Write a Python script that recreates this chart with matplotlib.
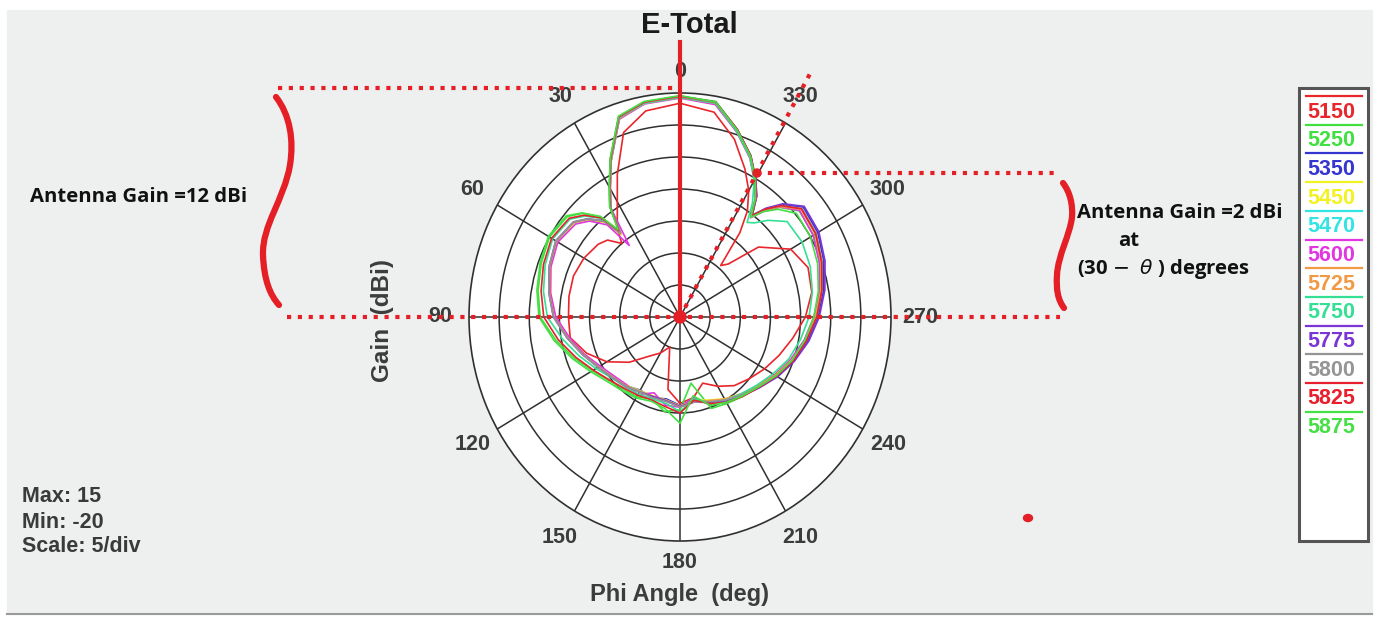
import numpy as np
import matplotlib.pyplot as plt
from matplotlib.path import Path
from matplotlib.patches import PathPatch, Rectangle, Ellipse

# ---------------- data (gain in dBi) ----------------
angles = [0, 10, 18, 25, 30, 34, 37, 40, 45, 50,
          60, 70, 80, 90, 100, 110, 120, 130, 140, 150,
          160, 170, 180, 190, 200, 210, 220, 230, 240, 250,
          260, 270, 280, 290, 300, 310, 316, 320, 323, 326,
          330, 335, 342, 350]

freqs = ['5150', '5250', '5350', '5450', '5470', '5600',
         '5725', '5750', '5775', '5800', '5825', '5875']
colors = ['#e8262b', '#3fe03f', '#3535d0', '#f2f222', '#33e4e4', '#e236e2',
          '#f09a45', '#35e095', '#7a35d5', '#959595', '#e8202e', '#44e044']

g5150 = [13.4, 12.7, 10.3, 4.6, 0.8, -1.4, -2.7, -5.0, -3.0, -2.3,
         -1.6, -1.2, -1.3, -1.5, -1.5, -3.5, -6.0, -9.0, -12.0, -13.5,
         -15.0, -8.5, -6.5, -7.2, -9.0, -7.5, -6.0, -5.0, -3.8, -2.5,
         -1.0, 0.8, 2.2, 2.6, 1.2, -3.0, -8.5, -9.5, -3.5, 0.0,
         2.8, 5.5, 9.2, 12.5]
g5250 = [14.5, 14.1, 12.9, 7.3, 3.4, 0.8, -3.2, 0.4, 2.9, 4.4,
         5.0, 4.5, 3.9, 3.2, 0.9, -1.3, -3.2, -4.6, -5.3, -5.6,
         -6.4, -5.0, -5.5, -9.5, -4.8, -4.4, -3.8, -3.0, -1.4, 0.0,
         1.2, 2.5, 3.7, 4.8, 5.6, 5.8, 3.8, 2.0, 0.0, 2.6,
         5.0, 7.8, 10.8, 14.2]
g5350 = [14.4, 14.0, 12.7, 7.1, 3.2, 0.6, -3.8, -0.6, 1.5, 2.9,
         3.6, 2.9, 1.9, 0.8, -1.2, -3.0, -4.5, -5.5, -6.0, -6.8,
         -6.6, -7.0, -6.2, -6.8, -6.0, -5.0, -4.0, -2.9, -1.5, 0.0,
         1.5, 2.9, 4.2, 5.4, 6.4, 6.7, 4.4, 2.0, -0.3, 2.7,
         5.0, 7.7, 10.7, 14.0]
g5450 = [14.3, 13.9, 12.6, 7.0, 3.1, 0.5, -3.9, -0.7, 1.4, 2.8,
         3.5, 2.8, 1.8, 0.7, -1.3, -3.1, -4.6, -5.6, -6.1, -6.7,
         -6.9, -6.8, -6.1, -6.7, -6.2, -5.2, -4.3, -3.2, -1.8, -0.3,
         1.1, 2.5, 3.8, 5.0, 6.0, 6.3, 4.0, 1.7, -0.5, 2.4,
         4.8, 7.5, 10.5, 13.8]
g5470 = [14.4, 14.0, 12.7, 7.0, 3.2, 0.6, -3.6, -0.5, 1.6, 3.0,
         3.7, 3.0, 2.0, 0.9, -1.1, -2.9, -4.4, -5.4, -6.0, -6.6,
         -6.7, -6.6, -6.0, -6.6, -6.0, -5.1, -4.2, -3.1, -1.7, -0.2,
         1.2, 2.6, 3.8, 5.0, 6.0, 6.3, 4.1, 1.8, -0.3, 2.5,
         4.9, 7.6, 10.6, 13.9]
g5600 = [14.2, 13.8, 12.5, 7.0, 3.1, 0.4, -6.0, -1.2, 1.2, 2.6,
         3.4, 2.8, 1.8, 0.6, -1.4, -3.1, -4.7, -5.7, -6.2, -6.0,
         -7.4, -6.0, -5.9, -7.2, -5.4, -4.9, -4.1, -3.3, -1.9, -0.5,
         0.9, 2.2, 3.5, 4.6, 5.5, 5.9, 3.9, 1.5, -0.6, 2.3,
         4.7, 7.4, 10.4, 13.7]
g5725 = [14.3, 13.9, 12.6, 7.0, 3.2, 0.6, -3.7, -0.5, 1.6, 3.0,
         3.7, 3.0, 2.0, 0.9, -1.1, -2.9, -4.4, -5.4, -6.0, -6.6,
         -6.8, -6.8, -6.1, -6.6, -6.1, -5.2, -4.3, -3.2, -1.8, -0.3,
         1.1, 2.5, 3.7, 4.9, 5.9, 6.2, 4.0, 1.7, -0.4, 2.5,
         4.9, 7.6, 10.6, 13.9]
g5750 = [14.3, 13.9, 12.7, 7.1, 3.2, 0.6, -3.3, 0.1, 2.3, 3.8,
         4.4, 3.8, 3.0, 2.0, -0.2, -2.2, -3.9, -5.2, -5.8, -6.1,
         -6.4, -6.3, -5.2, -7.0, -5.8, -5.0, -4.3, -3.4, -2.2, -0.8,
         0.3, 1.4, 2.3, 3.0, 3.4, 3.2, 1.0, -0.8, -1.5, 1.5,
         4.6, 7.5, 10.5, 13.9]
g5775 = [14.5, 14.1, 12.8, 7.2, 3.3, 0.7, -3.5, -0.4, 1.7, 3.1,
         3.8, 3.1, 2.1, 1.0, -1.0, -2.8, -4.3, -5.3, -5.9, -6.5,
         -6.8, -6.7, -6.0, -6.5, -5.8, -4.9, -3.9, -2.8, -1.3, 0.2,
         1.7, 3.1, 4.4, 5.6, 6.6, 6.9, 4.6, 2.2, -0.1, 2.8,
         5.1, 7.8, 10.8, 14.1]
g5800 = [14.4, 14.0, 12.7, 7.1, 3.2, 0.6, -3.6, -0.4, 1.7, 3.1,
         3.8, 3.1, 2.1, 1.0, -1.0, -2.8, -4.3, -5.3, -5.9, -6.5,
         -6.6, -6.6, -5.9, -6.5, -5.9, -5.0, -4.1, -3.0, -1.6, -0.1,
         1.3, 2.7, 3.9, 5.1, 6.1, 6.4, 4.2, 1.9, -0.2, 2.6,
         5.0, 7.7, 10.7, 14.0]
g5825 = [14.5, 14.1, 12.9, 7.3, 3.4, 0.8, -3.1, 0.2, 2.5, 4.0,
         4.6, 4.1, 3.4, 2.6, 0.5, -1.6, -3.4, -4.7, -5.5, -5.9,
         -6.2, -5.8, -5.0, -6.8, -5.6, -4.6, -3.8, -2.9, -1.5, 0.0,
         1.3, 2.7, 3.9, 5.0, 6.0, 6.3, 4.2, 2.0, -0.2, 2.6,
         5.0, 7.8, 10.8, 14.1]
g5875 = [14.6, 14.2, 13.0, 7.4, 3.5, 0.9, -2.9, 0.5, 3.0, 4.6,
         5.2, 4.7, 4.1, 3.4, 1.2, -1.0, -2.9, -4.3, -5.0, -5.4,
         -6.0, -5.5, -3.4, -7.5, -5.3, -4.6, -3.9, -3.0, -1.6, -0.2,
         1.0, 2.2, 3.3, 4.3, 5.0, 5.2, 3.4, 1.5, -0.5, 2.4,
         4.9, 7.7, 10.7, 14.1]

gains = [g5150, g5250, g5350, g5450, g5470, g5600,
         g5725, g5750, g5775, g5800, g5825, g5875]

angle_labels = ['0', '30', '60', '90', '120', '150', '180',
                '210', '240', '270', '300', '330']
info_lines = ['Max: 15', 'Min: -20', 'Scale: 5/div']

lab_font = 'Liberation Sans'
note_font = 'Open Sans'

# ---------------- figure + gray panel ----------------
W, H = 1378, 617
fig = plt.figure(figsize=(W / 100, H / 100), dpi=100)

bg = fig.add_axes([0, 0, 1, 1], zorder=0)
bg.set_xlim(0, W)
bg.set_ylim(H, 0)
bg.axis('off')
bg.add_patch(Rectangle((7, 10), 1365, 603, color='#eef0f0'))
bg.plot([7, 1372], [614, 614], color='#9a9a9a', lw=1.5)

# ---------------- polar plot ----------------
ax = fig.add_axes([469 / W, (H - 541) / H, 422 / W, 448 / H],
                  projection='polar', zorder=1)
ax.set_aspect('auto')
ax.set_theta_zero_location('N')
ax.set_theta_direction(1)
ax.set_ylim(-20, 15)
ax.set_rgrids([-15, -10, -5, 0, 5, 10], labels=[])
ax.set_thetagrids(range(0, 360, 30), labels=[])
ax.grid(True, color='#303030', lw=1.1)
ax.spines['polar'].set_color('#303030')
ax.spines['polar'].set_linewidth(1.2)
ax.set_facecolor('white')

theta = np.deg2rad(angles + [360])
for g, c in zip(gains, colors):
    ax.plot(theta, g + [g[0]], color=c, lw=1.2)

for a, lab in zip(range(0, 360, 30), angle_labels):
    r = 18.3 if a in (0, 180) else 19.8
    ax.text(np.deg2rad(a), r, lab, ha='center', va='center', fontsize=15.5,
            color='#3c3c3c', fontweight='bold', family=lab_font, clip_on=False)

# ---------------- overlay (texts and red annotations) ----------------
fg = fig.add_axes([0, 0, 1, 1], zorder=3)
fg.set_xlim(0, W)
fg.set_ylim(H, 0)
fg.axis('off')
fg.patch.set_alpha(0)

fg.text(689, 25, 'E-Total', ha='center', va='center', fontsize=21,
        fontweight='bold', family=lab_font, color='#1a1a1a')
fg.text(382, 320, 'Gain  (dBi)', ha='center', va='center', rotation=90,
        fontsize=17.5, fontweight='bold', family=lab_font, color='#3c3c3c')
fg.text(680, 595, 'Phi Angle  (deg)', ha='center', va='center',
        fontsize=17, fontweight='bold', family=lab_font, color='#3c3c3c')
for i, t in enumerate(info_lines):
    fg.text(22, 497 + 25 * i, t, ha='left', va='center', fontsize=15.5,
            fontweight='bold', family=lab_font, color='#3a3a3a')

red = '#e41f26'
dots = dict(color=red, lw=3.0, linestyle=(0, (1, 1.6)), dash_capstyle='butt')
fg.plot([278, 680], [88, 88], **dots)
fg.plot([287, 1060], [317, 317], **dots)
fg.plot([757, 1060], [173, 173], **dots)
fg.plot([680, 812], [317, 70], **dots)
fg.plot([680, 680], [42, 317], color=red, lw=3.0)
fg.add_patch(Ellipse((680, 317), 12, 12, color=red))
fg.add_patch(Ellipse((757, 173), 8, 8, color=red))
fg.add_patch(Ellipse((1028, 518), 9, 7, color=red))

# curly braces
left_brace = Path([(276, 97), (290, 115), (294, 140), (290, 165),
                   (284, 200), (262, 225), (263, 255),
                   (264, 280), (270, 295), (279, 305)],
                  [Path.MOVETO] + [Path.CURVE4] * 9)
right_brace = Path([(1063, 183), (1070, 192), (1073, 205), (1072, 217),
                    (1070, 235), (1058, 255), (1057, 275),
                    (1056, 290), (1058, 300), (1064, 308)],
                   [Path.MOVETO] + [Path.CURVE4] * 9)
for p in (left_brace, right_brace):
    fg.add_patch(PathPatch(p, fill=False, ec=red, lw=4.5, capstyle='round'))

note = dict(ha='left', va='center', fontsize=14.6, fontweight='bold',
            family=note_font, color='#111111')
fg.text(30, 197, 'Antenna Gain =12 dBi', **note)
fg.text(1077, 213, 'Antenna Gain =2 dBi', **note)
fg.text(1118, 241, 'at', **note)
fg.text(1077, 269, r'(30 $-$  $\theta$ ) degrees', **note)

# legend box
fg.add_patch(Rectangle((1299, 88), 69, 453, facecolor='white',
                       edgecolor='#555555', lw=2.2))
for i, (f, c) in enumerate(zip(freqs, colors)):
    y = 112 + 28.7 * i
    fg.plot([1306, 1362], [y - 16, y - 16], color=c, lw=1.6)
    fg.text(1307, y, f, ha='left', va='center', fontsize=15.5,
            fontweight='bold', family=lab_font, color=c)

fig.savefig('out.png', dpi=100)
